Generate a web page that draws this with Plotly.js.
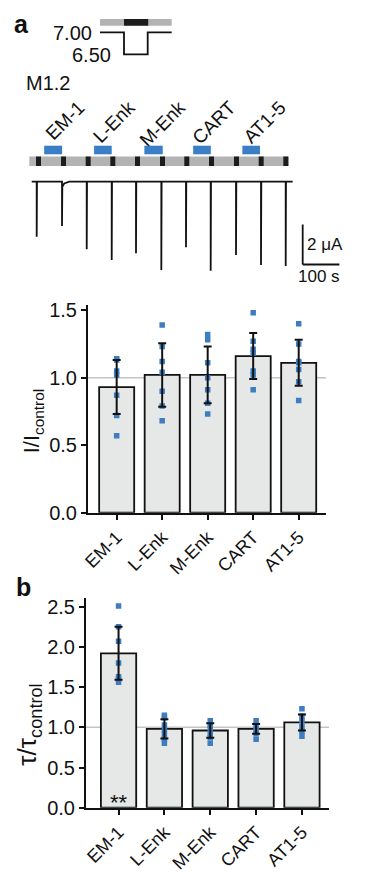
<!DOCTYPE html>
<html><head><meta charset="utf-8">
<script src="https://cdn.plot.ly/plotly-3.0.1.min.js"></script>
<style>html,body{margin:0;padding:0;background:#fff}#chart{width:370px;height:880px}</style>
</head><body><div id="chart"></div>
<script>
// ---------- data ----------
const categories = ['EM-1', 'L-Enk', 'M-Enk', 'CART', 'AT1-5'];

// panel a : I / I_control
const currentMean = [0.93, 1.02, 1.02, 1.16, 1.11];
const currentSD   = [0.20, 0.235, 0.21, 0.17, 0.17];
const currentPts  = [
  [1.14, 1.13, 1.05, 1.02, 0.87, 0.72, 0.57],
  [1.39, 1.23, 1.12, 1.04, 0.90, 0.79, 0.68],
  [1.32, 1.28, 1.11, 1.00, 0.91, 0.81, 0.73],
  [1.48, 1.27, 1.21, 1.18, 1.05, 1.02, 0.91],
  [1.40, 1.25, 1.12, 1.11, 1.06, 0.97, 0.83]
];

// panel b : tau / tau_control
const tauMean = [1.92, 0.98, 0.96, 0.98, 1.06];
const tauSD   = [0.33, 0.12, 0.09, 0.06, 0.10];
const tauPts  = [
  [2.51, 2.25, 2.07, 1.80, 1.63, 1.60, 1.56],
  [1.15, 1.12, 1.03, 0.97, 0.91, 0.85, 0.80],
  [1.08, 1.03, 0.99, 0.93, 0.87, 0.80],
  [1.08, 1.02, 0.97, 0.92, 0.85],
  [1.23, 1.14, 1.08, 1.01, 0.95, 0.89]
];
const tauSignificance = ['**', '', '', '', ''];

// recording (M1.2), time in s, current in μA
const peptideStart = [34, 170, 307, 440, 574];
const peptideEnd   = [83, 218, 357, 488, 622];
const pulseOnset   = [11.7, 79.8, 147.1, 214.2, 281.5, 349.6, 415.8, 483.1, 551.2, 618.5, 685.6];
const pulseDuration = 13.6;
const peakTime     = [13.6, 82.6, 149.9, 218.0, 284.2, 353.2, 420.4, 487.7, 556.7, 624.8, 692.1];
const peakCurrent  = [-2.75, -2.22, -3.38, -3.92, -3.58, -4.42, -3.28, -4.45, -3.67, -4.17, -4.22];
const residualCurrent = [0, -0.25, 0, 0, 0, 0, 0, 0, 0, 0, 0];
const conditioningStart = -6.5, conditioningEnd = 700.3;
const recordingEnd = 711;
const pHLevels = ['7.00', '6.50'];
const cellLabel = 'M1.2';
const scaleCurrent = 2, scaleTime = 100;

// ---------- helpers (pixel -> paper) ----------
const W = 370, H = 880;
const px = x => x / W;
const py = y => 1 - y / H;
const FONT = 'Liberation Sans, Arial, Helvetica, sans-serif';
const BLUE = '#3d7dc0';

// recording axes geometry: t = 0 s at x = 31.7 px, 0.367 px per s
const trDomPx = [20, 350];
const t0px = 31.7, pxPerSec = 0.367;
const trRange = [(trDomPx[0] - t0px) / pxPerSec, (trDomPx[1] - t0px) / pxPerSec];

// ---------- traces ----------
const traces = [];
function addBarPanel(mean, sd, pts, xa, ya) {
  traces.push({
    type: 'bar', x: categories, y: mean, xaxis: xa, yaxis: ya, width: 0.77,
    marker: {color: '#e6e7e7', line: {color: '#111', width: 1.8}},
    hoverinfo: 'skip', showlegend: false
  });
  const sx = [], sy = [];
  pts.forEach((arr, i) => arr.forEach(v => { sx.push(categories[i]); sy.push(v); }));
  traces.push({
    type: 'scatter', mode: 'markers', x: sx, y: sy, xaxis: xa, yaxis: ya,
    marker: {symbol: 'square', size: 5.5, color: BLUE}, showlegend: false, hoverinfo: 'skip'
  });
  traces.push({
    type: 'scatter', mode: 'markers', x: categories, y: mean, xaxis: xa, yaxis: ya,
    marker: {size: 1, color: 'rgba(0,0,0,0)'},
    error_y: {type: 'data', array: sd, visible: true, color: '#111', thickness: 2, width: 4},
    showlegend: false, hoverinfo: 'skip'
  });
}
addBarPanel(currentMean, currentSD, currentPts, 'x', 'y');
addBarPanel(tauMean, tauSD, tauPts, 'x2', 'y2');

// recording trace built from the peak list
const tx = [0], ty = [0];
peakTime.forEach((t, i) => {
  tx.push(t, t, t + 0.8);
  ty.push(0, peakCurrent[i], residualCurrent[i]);
  if (residualCurrent[i] !== 0) { tx.push(t + 6, t + 20); ty.push(residualCurrent[i] * 0.35, 0); }
});
tx.push(recordingEnd); ty.push(0);
traces.push({
  type: 'scatter', mode: 'lines', x: tx, y: ty, xaxis: 'x3', yaxis: 'y3',
  line: {color: '#111', width: 1.8}, showlegend: false, hoverinfo: 'skip'
});

// peptide labels: rotated category tick labels of a thin helper axis,
// each label ending up-right of the centre of its application bar
const LABEL_SIZE = 19;
const ctx = document.createElement('canvas').getContext('2d');
ctx.font = LABEL_SIZE + 'px "Liberation Sans", Arial, sans-serif';
const pepMidPx = peptideStart.map((t, i) => t0px + pxPerSec * (t + peptideEnd[i]) / 2);
const endPx = categories.map((c, i) => pepMidPx[i] + 0.707 * ctx.measureText(c).width - 8.5);
// least-squares line through the label ends (category index -> px)
const n = endPx.length, mi = (n - 1) / 2, me = endPx.reduce((a, b) => a + b, 0) / n;
let sxy = 0, sxx = 0; endPx.forEach((e, i) => { sxy += (i - mi) * (e - me); sxx += (i - mi) * (i - mi); });
const slope = sxy / sxx, icpt = me - slope * mi;
const labRange = [(trDomPx[0] - icpt) / slope, (trDomPx[1] - icpt) / slope];
traces.push({
  type: 'scatter', mode: 'markers', x: categories, y: categories.map(() => 0.5), xaxis: 'x4', yaxis: 'y4',
  marker: {size: 1, color: 'rgba(0,0,0,0)'}, showlegend: false, hoverinfo: 'skip'
});
const pepHi = 1.8, pepLo = 1.37, barLo = 0.785, barHi = 1.26;

// ---------- shapes ----------
const shapes = [];
shapes.push({type: 'line', xref: 'x domain', yref: 'y', x0: 0, x1: 1, y0: 1, y1: 1, layer: 'below', line: {color: '#c4c4c4', width: 1.5}});
shapes.push({type: 'line', xref: 'x2 domain', yref: 'y2', x0: 0, x1: 1, y0: 1, y1: 1, layer: 'below', line: {color: '#c4c4c4', width: 1.5}});

shapes.push({type: 'rect', xref: 'x3', yref: 'y3', x0: conditioningStart, x1: conditioningEnd, y0: barLo, y1: barHi, fillcolor: '#b3b3b3', line: {width: 0}});
pulseOnset.forEach(t => shapes.push({type: 'rect', xref: 'x3', yref: 'y3', x0: t, x1: t + pulseDuration, y0: barLo, y1: barHi, fillcolor: '#1c1c1c', line: {width: 0}}));
peptideStart.forEach((t, i) => shapes.push({type: 'rect', xref: 'x3', yref: 'y3', x0: t, x1: peptideEnd[i], y0: pepLo, y1: pepHi, fillcolor: '#3a7ec6', line: {width: 0}}));

const sbX = 738.4, sbY = -4.14;
shapes.push({type: 'line', xref: 'x3', yref: 'y3', x0: sbX, x1: sbX, y0: sbY, y1: sbY + scaleCurrent, line: {color: '#111', width: 1.8}});
shapes.push({type: 'line', xref: 'x3', yref: 'y3', x0: sbX, x1: sbX + scaleTime, y0: sbY, y1: sbY, line: {color: '#111', width: 1.8}});

shapes.push({type: 'rect', xref: 'paper', yref: 'paper', x0: px(100), x1: px(171.7), y0: py(25.7), y1: py(19), fillcolor: '#b3b3b3', line: {width: 0}});
shapes.push({type: 'rect', xref: 'paper', yref: 'paper', x0: px(124), x1: px(148.2), y0: py(25.7), y1: py(19), fillcolor: '#1c1c1c', line: {width: 0}});
shapes.push({type: 'path', xref: 'paper', yref: 'paper',
  path: `M${px(100)},${py(32.3)} L${px(124)},${py(32.3)} L${px(124)},${py(54.3)} L${px(147.7)},${py(54.3)} L${px(147.7)},${py(32.3)} L${px(171.7)},${py(32.3)}`,
  line: {color: '#111', width: 1.8}});

// ---------- annotations ----------
const ann = [];
const txt = (text, x, y, size, xanchor) => ({text, x, y, xref: 'paper', yref: 'paper', xanchor: xanchor || 'center', yanchor: 'middle', showarrow: false, font: {family: FONT, size, color: '#111'}});
ann.push(txt('<b>a</b>', px(21), py(24), 25));
ann.push(txt('<b>b</b>', px(23.5), py(587), 25));
ann.push(txt(pHLevels[0], px(94), py(32.5), 20, 'right'));
ann.push(txt(pHLevels[1], px(113), py(55), 20, 'right'));
ann.push(txt(cellLabel, px(24), py(83), 20, 'left'));
ann.push({text: scaleCurrent + ' μA', x: sbX, y: sbY + scaleCurrent / 2, xref: 'x3', yref: 'y3', xanchor: 'left', yanchor: 'middle', xshift: 2, showarrow: false, font: {family: FONT, size: 17, color: '#111'}});
ann.push({text: scaleTime + ' s', x: sbX + scaleTime / 2, y: sbY, xref: 'x3', yref: 'y3', xanchor: 'center', yanchor: 'top', xshift: -2, showarrow: false, font: {family: FONT, size: 17, color: '#111'}});
tauSignificance.forEach((s, i) => { if (s) ann.push({text: s, x: categories[i], y: 0, xref: 'x2', yref: 'y2', xanchor: 'center', yanchor: 'bottom', yshift: -9, showarrow: false, font: {family: FONT, size: 22, color: '#111'}}); });

// ---------- axes ----------
const xCat = (domain, range, anchor) => ({
  domain, range, anchor, type: 'category', showline: true, linecolor: '#111', linewidth: 2,
  ticks: 'outside', ticklen: 5, tickwidth: 2, tickcolor: '#111', tickangle: -45,
  tickfont: {family: FONT, size: 18, color: '#111'}, showgrid: false, zeroline: false, fixedrange: true
});
const yNum = (domain, range, anchor, tickvals, title, tsize) => ({
  domain, range, anchor, showline: true, linecolor: '#111', linewidth: 2,
  ticks: 'outside', ticklen: 5, tickwidth: 2, tickcolor: '#111', tickvals, tickformat: '.1f',
  tickfont: {family: FONT, size: 20, color: '#111'}, showgrid: false, zeroline: false, fixedrange: true,
  title: {text: title, standoff: 3, font: {family: FONT, size: tsize, color: '#111'}}
});

const LABEL_AXIS_Y = 88;
const labelAxis = xCat([px(trDomPx[0]), px(trDomPx[1])], labRange, 'y4');
Object.assign(labelAxis, {showline: false, ticklen: 0, tickcolor: 'rgba(0,0,0,0)', tickfont: {family: FONT, size: LABEL_SIZE, color: '#111'}});

const layout = {
  width: W, height: H, margin: {l: 0, r: 0, t: 0, b: 0},
  paper_bgcolor: '#fff', plot_bgcolor: 'rgba(0,0,0,0)', showlegend: false,
  font: {family: FONT, color: '#111'},
  xaxis: xCat([px(88), px(326)], [-0.63, 4.6], 'y'),
  yaxis: yNum([py(512.7), py(305)], [0, 1.538], 'x', [0, 0.5, 1.0, 1.5], 'I/I<sub>control</sub>&nbsp;&nbsp;&nbsp;&nbsp;', 22),
  xaxis2: xCat([px(86), px(329)], [-0.71, 4.59], 'y2'),
  yaxis2: yNum([py(807.7), py(598)], [0, 2.608], 'x2', [0, 0.5, 1.0, 1.5, 2.0, 2.5], 'τ/τ<sub>control</sub>&nbsp;&nbsp;&nbsp;&nbsp;&nbsp;&nbsp;', 26),
  xaxis3: {domain: [px(trDomPx[0]), px(trDomPx[1])], range: trRange, anchor: 'y3', visible: false, fixedrange: true},
  yaxis3: {domain: [py(290), py(90)], range: [(181.7 - 290) / 20, (181.7 - 90) / 20], anchor: 'x3', visible: false, fixedrange: true},
  xaxis4: labelAxis,
  yaxis4: {domain: [py(LABEL_AXIS_Y), py(LABEL_AXIS_Y - 2)], range: [0, 1], anchor: 'x4', visible: false, fixedrange: true},
  shapes, annotations: ann
};

Plotly.newPlot('chart', traces, layout, {displayModeBar: false, staticPlot: true});
</script></body></html>
